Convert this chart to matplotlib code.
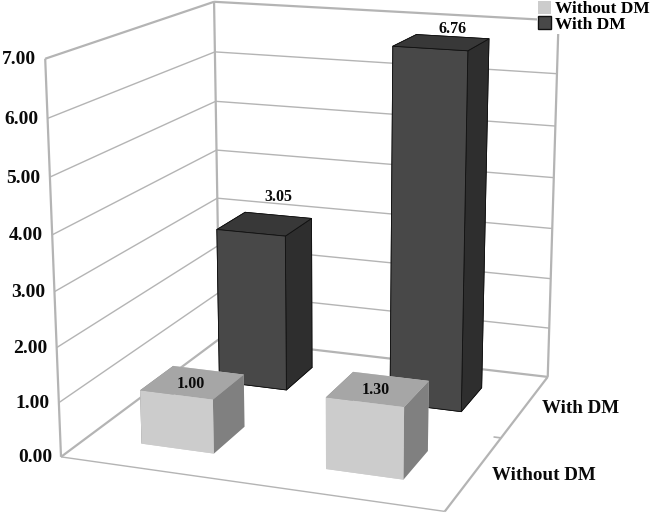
import numpy as np
import matplotlib
matplotlib.use("Agg")
import matplotlib.pyplot as plt
from matplotlib.patches import Patch
from mpl_toolkits.mplot3d.art3d import Line3DCollection

plt.rcParams['font.family'] = ['Liberation Serif', 'DejaVu Serif']
plt.rcParams['font.weight'] = 'bold'

categories = ["Without DM", "With DM"]   # series along the depth axis
without_dm = [1.00, 1.30]
with_dm = [3.05, 6.76]
z_ticks = [0, 1, 2, 3, 4, 5, 6, 7]

WALL = "#b4b4b4"
LIGHT = ["#cccccc", "#a6a6a6", "#cccccc", "#cccccc", "#808080", "#808080"]  # -z +z -y +y -x +x
DARK = ["#484848", "#383838", "#484848", "#484848", "#2e2e2e", "#2e2e2e"]

# camera: where corners of the plot box (x, y, z) land in the picture
corners = [(0, 0, 0), (2, 0, 0), (0, 2, 0), (2, 2, 0), (0, 0, 7), (0, 2, 7), (2, 2, 7)]
pixels = [(61, 457), (444, 512), (220, 339), (548, 376), (46, 58), (213, 2), (559, 21)]

rows = []
for (x, y, z), (u, v) in zip(corners, pixels):
    rows.append([x, y, z, 1, 0, 0, 0, 0, -u * x, -u * y, -u * z, -u])
    rows.append([0, 0, 0, 0, x, y, z, 1, -v * x, -v * y, -v * z, -v])
cam = np.linalg.svd(np.array(rows))[2][-1].reshape(3, 4)
cam = cam / cam[2, 3]


fig = plt.figure(figsize=(6.51, 5.14), dpi=100)
# square axes bigger than the figure so nothing is clipped
ax = fig.add_axes([0, -(651 - 514) / 2 / 514, 1, 651 / 514], projection='3d', computed_zorder=False)
ax.set_axis_off()
for axis in (ax.xaxis, ax.yaxis, ax.zaxis):
    axis.set_visible(False)
    axis.label.set_visible(False)
    axis.offsetText.set_visible(False)


def get_proj():
    disp = np.vstack([cam[0], 514 * cam[2] - cam[1], cam[2]])
    out = ax.transData.inverted().get_matrix() @ disp
    depth = np.array([-0.3, 1.0, -0.1, 2.0])
    return np.vstack([out[0], out[1], depth, out[2]])


ax.get_proj = get_proj


def add_lines(segments, lw):
    ax.add_collection3d(Line3DCollection(segments, colors=WALL, linewidths=lw, zorder=1))


# floor and walls
add_lines([[(0, 0, 0), (2, 0, 0)]], 1)
add_lines([[(0, 0, 0), (0, 2, 0)], [(0, 2, 0), (2, 2, 0)], [(2, 0, 0), (2, 2, 0)],
           [(0, 0, 0), (0, 0, 7)], [(0, 2, 0), (0, 2, 7)], [(2, 2, 0), (2, 2, 7)]], 1.6)
add_lines([[(1.96, 1, 0), (2, 1, 0)]], 1.2)
for t in z_ticks[1:]:
    add_lines([[(0, 0, t), (0, 2, t)], [(0, 2, t), (2, 2, t)]], 1.6 if t == 7 else 1)
for t in z_ticks:
    ax.text(-0.05, 0, t - 0.03, "%.2f" % t, ha='right', va='center', fontsize=14, color='#0a0a0a', zorder=6)

# bars, back row first
lifts = [0.37, 0.14]
for col, v in enumerate(with_dm):
    ax.bar3d(col + 0.3, 1.3, 0, 0.4, 0.4, v, color=DARK, shade=False, edgecolor='#111111', linewidth=0.6, zorder=2 + col * 0.1)
    ax.text(col + 0.5, 1.7, v + lifts[col], "%.2f" % v, ha='center', va='center', fontsize=11.5, color='#0a0a0a', zorder=6)
for col, v in enumerate(without_dm):
    ax.bar3d(col + 0.3, 0.3, 0, 0.4, 0.4, v, color=LIGHT, shade=False, edgecolor='none', zorder=3 + col * 0.1)
    ax.text(col + 0.49, 0.5, v - 0.03, "%.2f" % v, ha='center', va='center', fontsize=11.5, color='#0a0a0a', zorder=6)

# depth axis labels
for i, name in enumerate(categories):
    ax.text(2.09, i + 0.5, 0, name, ha='left', va='center', fontsize=13.7, color='#0a0a0a', zorder=6)

handles = [Patch(facecolor="#cccccc", edgecolor='none', label=categories[0]),
           Patch(facecolor="#484848", edgecolor='#111111', label=categories[1])]
fig.legend(handles=handles, loc='upper right', bbox_to_anchor=(1.0, 1.0), fontsize=12.5, frameon=True,
           facecolor='white', edgecolor='none', framealpha=1, handlelength=0.75, handleheight=0.75,
           handletextpad=0.25, labelspacing=-0.05, borderpad=0.05, borderaxespad=0)

fig.savefig("out.png", dpi=100)
